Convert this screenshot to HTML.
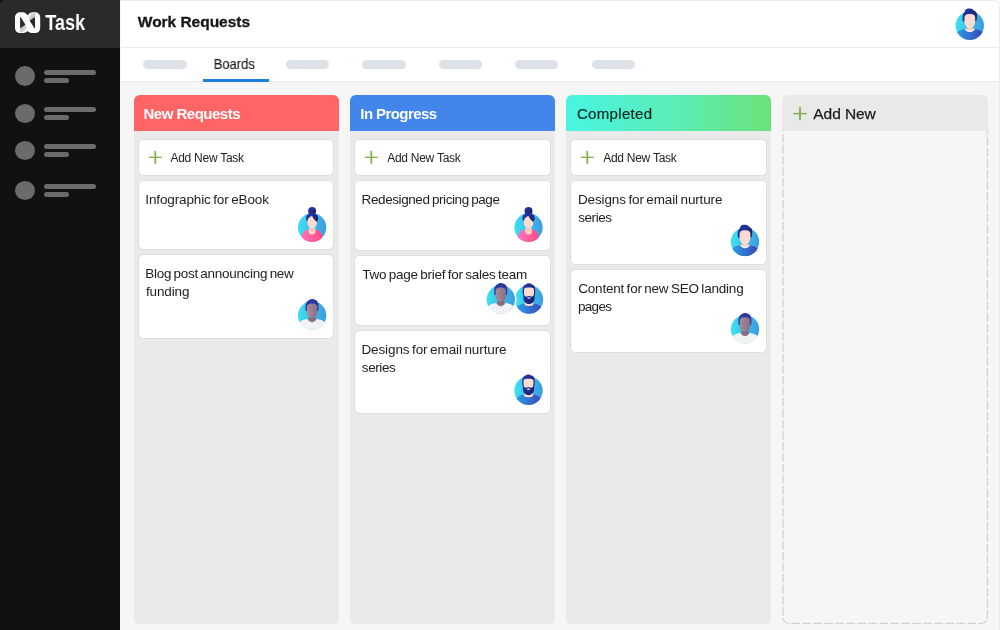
<!DOCTYPE html>
<html lang="en">
<head>
<meta charset="utf-8">
<title>nTask – Work Requests</title>
<style>
*{box-sizing:border-box;margin:0;padding:0}
html,body{width:1000px;height:630px;overflow:hidden}
body{position:relative;background:#f6f6f6;font-family:"Liberation Sans",Arial,sans-serif;color:#202020}
.abs{position:absolute}
.t{position:absolute;white-space:nowrap;color:#222;will-change:transform;transform-origin:0 50%}
#frame{position:absolute;left:120px;top:0;width:880px;height:630px;border-top:1px solid #ebebeb;border-right:1px solid #ebebeb;border-top-right-radius:7px;pointer-events:none}
#side{position:absolute;left:0;top:0;width:120px;height:630px;background:#111}
#side .top{position:absolute;left:0;top:0;width:120px;height:48px;background:#2a2a2a;border-top-left-radius:5px}
#side .c{position:absolute;left:15px;width:20px;height:20px;border-radius:50%;background:#6b6b6b}
#side .l{position:absolute;left:44px;height:5px;border-radius:3px;background:#6b6b6b}
#side .l.a{width:52px}
#side .l.b{width:25px}
#head{position:absolute;left:121px;top:1px;width:878px;height:47px;background:#fff;border-bottom:1px solid #ebebeb}
#tabs{position:absolute;left:121px;top:48px;width:878px;height:34px;background:#fff;border-bottom:1px solid #e9e9e9}
.p{position:absolute;top:60px;height:9px;width:44px;border-radius:5px;background:#dde2e8}
#on{position:absolute;left:203px;top:79px;width:66px;height:3px;background:#1c7fe0}
.col{position:absolute;top:95px;width:205px;height:529px;background:#eaeaea;border-radius:6px}
.h{position:absolute;top:95px;width:205px;height:36px;border-radius:6px 6px 0 0}
.card{position:absolute;background:#fff;border-radius:4.5px;box-shadow:0 0 0 1px rgba(0,0,0,.05)}
.av{position:absolute}
</style>
</head>
<body>
<div id="side"><div class="top"></div>
<svg class="abs" style="left:10px;top:8px" width="36" height="30" viewBox="10 8 36 30"><defs><linearGradient id="lg1" x1="0" y1="0" x2="1" y2="1"><stop offset="0" stop-color="#9c9c9c"/><stop offset="1" stop-color="#fff"/></linearGradient><linearGradient id="lg2" x1="1" y1="1" x2="0" y2="0"><stop offset="0" stop-color="#9c9c9c"/><stop offset="1" stop-color="#fff"/></linearGradient></defs><path d="M15 17.300a5 5 0 0 1 5-5h2.500c2.200 0 3.600 1.100 5.100 3.100c1.500-2 2.900-3.100 5.100-3.100h2.500a5 5 0 0 1 5 5v10.800a5 5 0 0 1-5 5h-2.500c-2.200 0-3.600-0.800-5.100-2.200c-1.500 1.400-2.900 2.200-5.100 2.200h-2.500a5 5 0 0 1-5-5z" fill="#fff"/><path d="M20.100 27.800L25.200 24.600L27 28.600L23 32.600L20.100 32z" fill="url(#lg1)"/><path d="M35 17.200L30 20.800L28.300 16.600L32.300 12.800L35 13.200z" fill="url(#lg2)"/><path d="M20.100 17.300Q20.100 16.300 20.800 17.200L25.200 24.200Q25.500 24.700 25 25L20.800 27.700Q20.100 28.100 20.100 27.300z" fill="#2a2a2a"/><path d="M35 28Q35 29 34.300 28.100L29.900 21.100Q29.600 20.600 30.100 20.300L34.300 17.600Q35 17.200 35 18z" fill="#2a2a2a"/></svg>
<div class="c" style="top:66px;height:20px"></div><div class="l a" style="top:70px"></div><div class="l b" style="top:78px"></div>
<div class="c" style="top:104px;height:19px"></div><div class="l a" style="top:107px"></div><div class="l b" style="top:115px"></div>
<div class="c" style="top:141px;height:19px"></div><div class="l a" style="top:144px"></div><div class="l b" style="top:152px"></div>
<div class="c" style="top:181px;height:19px"></div><div class="l a" style="top:184px"></div><div class="l b" style="top:192px"></div>
</div>
<div class="t" style="left:45px;top:9px;font-size:22px;line-height:28px;transform:translateX(0.30px) scaleX(0.8207);font-weight:bold;color:#fff">Task</div>
<div id="head"></div><div id="tabs"></div>
<div class="t" style="left:137px;top:11px;font-size:15.5px;line-height:22px;letter-spacing:-0.033px;transform:translateX(0.85px);font-weight:bold;color:#161616;-webkit-text-stroke:0.3px #161616">Work Requests</div>
<div class="p" style="left:143px;width:44px"></div>
<div class="p" style="left:286px;width:43px"></div>
<div class="p" style="left:362px;width:44px"></div>
<div class="p" style="left:439px;width:43px"></div>
<div class="p" style="left:515px;width:43px"></div>
<div class="p" style="left:592px;width:43px"></div>
<div class="t" style="left:213px;top:55px;font-size:14.5px;line-height:18px;transform:translateX(0.65px) scaleX(0.8933);color:#1c1c1c;-webkit-text-stroke:0.15px #1c1c1c">Boards</div>
<div id="on"></div>
<svg class="av" style="left:952px;top:0px" width="34" height="42" viewBox="-17.80 -25.60 34 42"><defs><linearGradient id="g0" x1="0" y1="0" x2="1" y2="0"><stop offset="0" stop-color="#3de2f1"/><stop offset="1" stop-color="#3b9be2"/></linearGradient><linearGradient id="h0" x1="0" y1="0" x2="1" y2="1"><stop offset="0" stop-color="#2a3bb0"/><stop offset="1" stop-color="#151b5e"/></linearGradient><clipPath id="c0"><circle cx="0" cy="0" r="14.4"/></clipPath><linearGradient id="s0" x1="0" y1="0" x2="1" y2="0"><stop offset="0" stop-color="#2aa0e4"/><stop offset="1" stop-color="#3a44b6"/></linearGradient></defs><circle cx="0" cy="0" r="14.15" fill="url(#g0)"/><path d="M-6.9 -4 C-7.6 -8 -7.4 -11.5 -5 -14 C-4.4 -16.4 -2.6 -17.6 -0.6 -17 C1.6 -17.4 3.6 -16.2 4.6 -14.6 C6.4 -14.4 7.4 -12.6 7.2 -10 C7.2 -8 6.8 -5.6 6.4 -4 Z" fill="url(#h0)"/><g clip-path="url(#c0)"><path d="M-13.5 7.6 C-11.5 5 -8.5 3.7 -4.5 3.4 L4.5 3.4 C8.5 3.7 11.5 5 13.5 7.6 L13.5 15 L-13.5 15 Z" fill="url(#s0)"/><path d="M-5.2 3.3 C-3.6 7.4 3.6 7.4 5.2 3.3 Z" fill="#eef3fb"/><path d="M-3.8 3.3 C-2.6 5.8 2.6 5.8 3.8 3.3 Z" fill="#fddbd0"/></g><path d="M-2.8 0 L2.8 0 L3.4 3.6 L-3.4 3.6 Z" fill="#f4c3b8"/><path d="M-5.4 -7 C-5.4 -10.6 -3.8 -11.5 0 -11.5 C3.8 -11.5 5.4 -10.6 5.4 -7 L5.4 -4.5 C5.4 -0.5 2.6 3 0 3 C-2.6 3 -5.4 -0.5 -5.4 -4.5 Z" fill="#fddbd0"/></svg>
<div class="col" style="left:134px"></div>
<div class="col" style="left:350px"></div>
<div class="col" style="left:566px"></div>
<svg class="abs" style="left:778px;top:90px" width="216" height="540" viewBox="778 90 216 540"><path d="M783 128V617.400a6 6 0 0 0 6 6H981.400a6 6 0 0 0 6-6V128" fill="none" stroke="#d2d2d2" stroke-width="1.35" stroke-dasharray="8.6 2.4" stroke-dashoffset="5"/></svg>
<div class="h" style="left:134px;background:#ff6565"></div>
<div class="h" style="left:350px;background:#4285eb"></div>
<div class="h" style="left:566px;background:linear-gradient(90deg,#48f5e2 0%,#5becb4 55%,#6ae27a 100%)"></div>
<div class="h" style="left:782px;width:206px;background:#e9e9e9"></div>
<div class="t" style="left:143px;top:105px;font-size:15px;line-height:18px;letter-spacing:-0.500px;transform:translateX(0.50px);font-weight:bold;color:#fff">New Requests</div>
<div class="t" style="left:360px;top:105px;font-size:15px;line-height:18px;letter-spacing:-0.575px;transform:translateX(0.30px);font-weight:bold;color:#fff">In Progress</div>
<div class="t" style="left:576px;top:105px;font-size:15px;line-height:18px;letter-spacing:0.325px;transform:translateX(0.95px);color:#0a2722;-webkit-text-stroke:0.2px #0a2722">Completed</div>
<svg class="abs" style="left:792px;top:105px" width="16" height="16" viewBox="-8.00 -8.60 16 16"><path d="M-6.6 0H6.6" stroke="#7fb048" stroke-width="1.4" fill="none"/><path d="M0 -6.6V6.6" stroke="#7fb048" stroke-width="1.8" fill="none"/></svg>
<div class="t" style="left:813px;top:105px;font-size:15.5px;line-height:18px;letter-spacing:-0.083px;transform:translateX(0.35px);color:#1a1a1a;-webkit-text-stroke:0.25px #1a1a1a">Add New</div>
<div class="card" style="left:139px;top:140px;width:194px;height:35px"></div>
<svg class="abs" style="left:147px;top:149px" width="16" height="16" viewBox="-8.30 -8.30 16 16"><path d="M-6.5 0H6.5" stroke="#7fb048" stroke-width="1.3" fill="none"/><path d="M0 -6.5V6.5" stroke="#7fb048" stroke-width="1.7" fill="none"/></svg>
<div class="t" style="left:170px;top:150px;font-size:12px;line-height:16px;letter-spacing:-0.259px;transform:translateX(0.45px);">Add New Task</div>
<div class="card" style="left:355px;top:140px;width:195px;height:35px"></div>
<svg class="abs" style="left:363px;top:149px" width="16" height="16" viewBox="-8.30 -8.30 16 16"><path d="M-6.5 0H6.5" stroke="#7fb048" stroke-width="1.3" fill="none"/><path d="M0 -6.5V6.5" stroke="#7fb048" stroke-width="1.7" fill="none"/></svg>
<div class="t" style="left:387px;top:150px;font-size:12px;line-height:16px;letter-spacing:-0.259px;transform:translateX(0.15px);">Add New Task</div>
<div class="card" style="left:571px;top:140px;width:195px;height:35px"></div>
<svg class="abs" style="left:579px;top:149px" width="16" height="16" viewBox="-8.30 -8.30 16 16"><path d="M-6.5 0H6.5" stroke="#7fb048" stroke-width="1.3" fill="none"/><path d="M0 -6.5V6.5" stroke="#7fb048" stroke-width="1.7" fill="none"/></svg>
<div class="t" style="left:603px;top:150px;font-size:12px;line-height:16px;letter-spacing:-0.259px;transform:translateX(0.15px);">Add New Task</div>
<div class="card" style="left:139px;top:181px;width:194px;height:68px"></div>
<div class="t" style="left:145px;top:191px;font-size:13.5px;line-height:18px;letter-spacing:-0.133px;transform:translateX(0.30px);word-spacing:-1px;">Infographic for eBook</div>
<svg class="av" style="left:295px;top:202px" width="34" height="42" viewBox="-17.10 -25.50 34 42"><defs><linearGradient id="g1" x1="0" y1="0" x2="1" y2="0"><stop offset="0" stop-color="#3de2f1"/><stop offset="1" stop-color="#3b9be2"/></linearGradient><linearGradient id="h1" x1="0" y1="0" x2="1" y2="1"><stop offset="0" stop-color="#2a3bb0"/><stop offset="1" stop-color="#151b5e"/></linearGradient><clipPath id="c1"><circle cx="0" cy="0" r="14.4"/></clipPath><linearGradient id="s1" x1="0" y1="0" x2="1" y2="0"><stop offset="0" stop-color="#ff72ba"/><stop offset="1" stop-color="#ff4a84"/></linearGradient></defs><circle cx="0" cy="0" r="14.15" fill="url(#g1)"/><circle cx="0" cy="-16.6" r="4" fill="url(#h1)"/><ellipse cx="0" cy="-9.2" rx="6.1" ry="5.6" fill="url(#h1)"/><g clip-path="url(#c1)"><path d="M-10.7 12 C-10.5 6.5 -8.5 2.6 -4 2 L4 2 C8.5 2.6 10.1 6.5 10.3 12 L10.3 15 L-10.7 15 Z" fill="url(#s1)"/><ellipse cx="0" cy="3.2" rx="3.5" ry="3.8" fill="#fddbd0"/></g><rect x="-1.8" y="-1" width="3.6" height="5" fill="#f4c3b8"/><ellipse cx="0" cy="-5.2" rx="4.8" ry="6.2" fill="#fddbd0"/><path d="M-3.8 -9.6 C-2.6 -11 -1.4 -11.6 0 -11.6 C1 -9.2 3 -7 4.9 -5.6 L5.6 -11 L0 -13.5 L-4.8 -11.5 Z" fill="url(#h1)"/></svg>
<div class="card" style="left:139px;top:255px;width:194px;height:83px"></div>
<div class="t" style="left:145px;top:265px;font-size:13.5px;line-height:18px;letter-spacing:-0.298px;transform:translateX(0.30px);word-spacing:-1px;">Blog post announcing new</div>
<div class="t" style="left:145px;top:283px;font-size:13.5px;line-height:18px;letter-spacing:-0.117px;transform:translateX(0.90px);word-spacing:-1px;">funding</div>
<svg class="av" style="left:295px;top:290px" width="34" height="42" viewBox="-17.10 -25.40 34 42"><defs><linearGradient id="g2" x1="0" y1="0" x2="1" y2="0"><stop offset="0" stop-color="#3de2f1"/><stop offset="1" stop-color="#3b9be2"/></linearGradient><linearGradient id="h2" x1="0" y1="0" x2="1" y2="1"><stop offset="0" stop-color="#2a3bb0"/><stop offset="1" stop-color="#151b5e"/></linearGradient><clipPath id="c2"><circle cx="0" cy="0" r="14.4"/></clipPath><linearGradient id="s2" x1="0" y1="0" x2="1" y2="0"><stop offset="0" stop-color="#a48d9f"/><stop offset="1" stop-color="#8b6e86"/></linearGradient></defs><circle cx="0" cy="0" r="14.15" fill="url(#g2)"/><path d="M-6.4 -4.5 C-7 -10 -6.2 -14 -3 -15.4 C-1.6 -16.6 1.4 -16.7 3 -15.6 C6.2 -14.6 7 -10.5 6.3 -4.5 Z" fill="#2b369f"/><g clip-path="url(#c2)"><path d="M-13.5 8 C-11.5 5.4 -8.5 4 -4.5 3.7 L4.5 3.7 C8.5 4 11.5 5.4 13.5 8 L13.5 15 L-13.5 15 Z" fill="#f1f2f3"/><path d="M-4.4 3.6 C-3 7.800 3 7.800 4.4 3.6 Z" fill="#8e7389"/></g><path d="M-3 0 L3 0 L3.6 4 L-3.6 4 Z" fill="#80667c"/><path d="M-5.2 -8 C-5.2 -11 -3.6 -12 0 -12 C3.6 -12 5.2 -11 5.2 -8 L5.2 -3.5 C5.2 0 2.6 2.8 0 2.8 C-2.6 2.8 -5.2 0 -5.2 -3.5 Z" fill="url(#s2)"/></svg>
<div class="card" style="left:355px;top:181px;width:195px;height:69px"></div>
<div class="t" style="left:361px;top:191px;font-size:13.5px;line-height:18px;letter-spacing:-0.409px;transform:translateX(0.60px);word-spacing:-1px;">Redesigned pricing page</div>
<svg class="av" style="left:511px;top:202px" width="34" height="42" viewBox="-17.50 -25.50 34 42"><defs><linearGradient id="g3" x1="0" y1="0" x2="1" y2="0"><stop offset="0" stop-color="#3de2f1"/><stop offset="1" stop-color="#3b9be2"/></linearGradient><linearGradient id="h3" x1="0" y1="0" x2="1" y2="1"><stop offset="0" stop-color="#2a3bb0"/><stop offset="1" stop-color="#151b5e"/></linearGradient><clipPath id="c3"><circle cx="0" cy="0" r="14.4"/></clipPath><linearGradient id="s3" x1="0" y1="0" x2="1" y2="0"><stop offset="0" stop-color="#ff72ba"/><stop offset="1" stop-color="#ff4a84"/></linearGradient></defs><circle cx="0" cy="0" r="14.15" fill="url(#g3)"/><circle cx="0" cy="-16.6" r="4" fill="url(#h3)"/><ellipse cx="0" cy="-9.2" rx="6.1" ry="5.6" fill="url(#h3)"/><g clip-path="url(#c3)"><path d="M-10.7 12 C-10.5 6.5 -8.5 2.6 -4 2 L4 2 C8.5 2.6 10.1 6.5 10.3 12 L10.3 15 L-10.7 15 Z" fill="url(#s3)"/><ellipse cx="0" cy="3.2" rx="3.5" ry="3.8" fill="#fddbd0"/></g><rect x="-1.8" y="-1" width="3.6" height="5" fill="#f4c3b8"/><ellipse cx="0" cy="-5.2" rx="4.8" ry="6.2" fill="#fddbd0"/><path d="M-3.8 -9.6 C-2.6 -11 -1.4 -11.6 0 -11.6 C1 -9.2 3 -7 4.9 -5.6 L5.6 -11 L0 -13.5 L-4.8 -11.5 Z" fill="url(#h3)"/></svg>
<div class="card" style="left:355px;top:256px;width:195px;height:69px"></div>
<div class="t" style="left:362px;top:266px;font-size:13.5px;line-height:18px;letter-spacing:-0.250px;transform:translateX(0.25px);word-spacing:-1px;">Two page brief for sales team</div>
<svg class="av" style="left:512px;top:274px" width="34" height="42" viewBox="-17.00 -25.40 34 42"><defs><linearGradient id="g4" x1="0" y1="0" x2="1" y2="0"><stop offset="0" stop-color="#3de2f1"/><stop offset="1" stop-color="#3b9be2"/></linearGradient><linearGradient id="h4" x1="0" y1="0" x2="1" y2="1"><stop offset="0" stop-color="#2a3bb0"/><stop offset="1" stop-color="#151b5e"/></linearGradient><clipPath id="c4"><circle cx="0" cy="0" r="14.4"/></clipPath><linearGradient id="s4" x1="0" y1="0" x2="1" y2="0"><stop offset="0" stop-color="#2aa0e4"/><stop offset="1" stop-color="#3a48bb"/></linearGradient></defs><circle cx="0" cy="0" r="14.15" fill="url(#g4)"/><path d="M-6.1 -5 C-6.8 -11 -6 -14.3 -3 -15.2 C-1.5 -16.6 1.5 -16.4 3 -15 C6 -14.4 6.6 -11 6 -5 Z" fill="url(#h4)"/><g clip-path="url(#c4)"><path d="M-13 9 C-11.5 6 -8.5 4.3 -4.5 4 L4.5 4 C8.5 4.3 11.5 6 13 9 L13 15 L-13 15 Z" fill="url(#s4)"/><ellipse cx="0" cy="4.2" rx="4.6" ry="2.5" fill="#fddbd0"/></g><path d="M-5 -9 C-5 -11.4 -3.6 -11.8 0 -11.8 C3.6 -11.8 5 -11.4 5 -9 L5 -1 L-5 -1 Z" fill="#fddbd0"/><path d="M-5.7 -6 L-5 -6 C-4.8 -3.4 -3.6 -2.6 -1.6 -3 C-0.6 -3.6 0.6 -3.6 1.6 -3 C3.6 -2.6 4.8 -3.4 5 -6 L5.7 -6 L5.6 -1 C5.2 2.6 2.6 4.6 0 4.6 C-2.6 4.6 -5.2 2.6 -5.6 -1 Z" fill="url(#h4)"/><ellipse cx="0" cy="-1.3" rx="1.7" ry="0.75" fill="#dcd8ee"/></svg>
<svg class="av" style="left:483px;top:274px" width="34" height="42" viewBox="-17.80 -25.40 34 42"><defs><linearGradient id="g5" x1="0" y1="0" x2="1" y2="0"><stop offset="0" stop-color="#3de2f1"/><stop offset="1" stop-color="#3b9be2"/></linearGradient><linearGradient id="h5" x1="0" y1="0" x2="1" y2="1"><stop offset="0" stop-color="#2a3bb0"/><stop offset="1" stop-color="#151b5e"/></linearGradient><clipPath id="c5"><circle cx="0" cy="0" r="14.4"/></clipPath><linearGradient id="s5" x1="0" y1="0" x2="1" y2="0"><stop offset="0" stop-color="#a48d9f"/><stop offset="1" stop-color="#8b6e86"/></linearGradient></defs><circle cx="0" cy="0" r="15.75" fill="#fff"/><circle cx="0" cy="0" r="14.15" fill="url(#g5)"/><path d="M-6.4 -4.5 C-7 -10 -6.2 -14 -3 -15.4 C-1.6 -16.6 1.4 -16.7 3 -15.6 C6.2 -14.6 7 -10.5 6.3 -4.5 Z" fill="#2b369f"/><g clip-path="url(#c5)"><path d="M-13.5 8 C-11.5 5.4 -8.5 4 -4.5 3.7 L4.5 3.7 C8.5 4 11.5 5.4 13.5 8 L13.5 15 L-13.5 15 Z" fill="#f1f2f3"/><path d="M-4.4 3.6 C-3 7.800 3 7.800 4.4 3.6 Z" fill="#8e7389"/></g><path d="M-3 0 L3 0 L3.6 4 L-3.6 4 Z" fill="#80667c"/><path d="M-5.2 -8 C-5.2 -11 -3.6 -12 0 -12 C3.6 -12 5.2 -11 5.2 -8 L5.2 -3.5 C5.2 0 2.6 2.8 0 2.8 C-2.6 2.8 -5.2 0 -5.2 -3.5 Z" fill="url(#s5)"/></svg>
<div class="card" style="left:355px;top:331px;width:195px;height:82px"></div>
<div class="t" style="left:361px;top:341px;font-size:13.5px;line-height:18px;letter-spacing:-0.113px;transform:translateX(0.45px);word-spacing:-1px;">Designs for email nurture</div>
<div class="t" style="left:361px;top:359px;font-size:13.5px;line-height:18px;letter-spacing:-0.420px;transform:translateX(0.85px);word-spacing:-1px;">series</div>
<svg class="av" style="left:511px;top:365px" width="34" height="42" viewBox="-17.50 -25.60 34 42"><defs><linearGradient id="g6" x1="0" y1="0" x2="1" y2="0"><stop offset="0" stop-color="#3de2f1"/><stop offset="1" stop-color="#3b9be2"/></linearGradient><linearGradient id="h6" x1="0" y1="0" x2="1" y2="1"><stop offset="0" stop-color="#2a3bb0"/><stop offset="1" stop-color="#151b5e"/></linearGradient><clipPath id="c6"><circle cx="0" cy="0" r="14.4"/></clipPath><linearGradient id="s6" x1="0" y1="0" x2="1" y2="0"><stop offset="0" stop-color="#2aa0e4"/><stop offset="1" stop-color="#3a48bb"/></linearGradient></defs><circle cx="0" cy="0" r="14.15" fill="url(#g6)"/><path d="M-6.1 -5 C-6.8 -11 -6 -14.3 -3 -15.2 C-1.5 -16.6 1.5 -16.4 3 -15 C6 -14.4 6.6 -11 6 -5 Z" fill="url(#h6)"/><g clip-path="url(#c6)"><path d="M-13 9 C-11.5 6 -8.5 4.3 -4.5 4 L4.5 4 C8.5 4.3 11.5 6 13 9 L13 15 L-13 15 Z" fill="url(#s6)"/><ellipse cx="0" cy="4.2" rx="4.6" ry="2.5" fill="#fddbd0"/></g><path d="M-5 -9 C-5 -11.4 -3.6 -11.8 0 -11.8 C3.6 -11.8 5 -11.4 5 -9 L5 -1 L-5 -1 Z" fill="#fddbd0"/><path d="M-5.7 -6 L-5 -6 C-4.8 -3.4 -3.6 -2.6 -1.6 -3 C-0.6 -3.6 0.6 -3.6 1.6 -3 C3.6 -2.6 4.8 -3.4 5 -6 L5.7 -6 L5.6 -1 C5.2 2.6 2.6 4.6 0 4.6 C-2.6 4.6 -5.2 2.6 -5.6 -1 Z" fill="url(#h6)"/><ellipse cx="0" cy="-1.3" rx="1.7" ry="0.75" fill="#dcd8ee"/></svg>
<div class="card" style="left:571px;top:181px;width:195px;height:83px"></div>
<div class="t" style="left:578px;top:191px;font-size:13.5px;line-height:18px;letter-spacing:-0.140px;transform:translateX(0.00px);word-spacing:-1px;">Designs for email nurture</div>
<div class="t" style="left:578px;top:209px;font-size:13.5px;line-height:18px;letter-spacing:-0.440px;transform:translateX(0.20px);word-spacing:-1px;">series</div>
<svg class="av" style="left:728px;top:216px" width="34" height="42" viewBox="-17.00 -25.80 34 42"><defs><linearGradient id="g7" x1="0" y1="0" x2="1" y2="0"><stop offset="0" stop-color="#3de2f1"/><stop offset="1" stop-color="#3b9be2"/></linearGradient><linearGradient id="h7" x1="0" y1="0" x2="1" y2="1"><stop offset="0" stop-color="#2a3bb0"/><stop offset="1" stop-color="#151b5e"/></linearGradient><clipPath id="c7"><circle cx="0" cy="0" r="14.4"/></clipPath><linearGradient id="s7" x1="0" y1="0" x2="1" y2="0"><stop offset="0" stop-color="#2aa0e4"/><stop offset="1" stop-color="#3a44b6"/></linearGradient></defs><circle cx="0" cy="0" r="14.15" fill="url(#g7)"/><path d="M-6.9 -4 C-7.6 -8 -7.4 -11.5 -5 -14 C-4.4 -16.4 -2.6 -17.6 -0.6 -17 C1.6 -17.4 3.6 -16.2 4.6 -14.6 C6.4 -14.4 7.4 -12.6 7.2 -10 C7.2 -8 6.8 -5.6 6.4 -4 Z" fill="url(#h7)"/><g clip-path="url(#c7)"><path d="M-13.5 7.6 C-11.5 5 -8.5 3.7 -4.5 3.4 L4.5 3.4 C8.5 3.7 11.5 5 13.5 7.6 L13.5 15 L-13.5 15 Z" fill="url(#s7)"/><path d="M-5.2 3.3 C-3.6 7.4 3.6 7.4 5.2 3.3 Z" fill="#eef3fb"/><path d="M-3.8 3.3 C-2.6 5.8 2.6 5.8 3.8 3.3 Z" fill="#fddbd0"/></g><path d="M-2.8 0 L2.8 0 L3.4 3.6 L-3.4 3.6 Z" fill="#f4c3b8"/><path d="M-5.4 -7 C-5.4 -10.6 -3.8 -11.5 0 -11.5 C3.8 -11.5 5.4 -10.6 5.4 -7 L5.4 -4.5 C5.4 -0.5 2.6 3 0 3 C-2.6 3 -5.4 -0.5 -5.4 -4.5 Z" fill="#fddbd0"/></svg>
<div class="card" style="left:571px;top:270px;width:195px;height:82px"></div>
<div class="t" style="left:578px;top:280px;font-size:13.5px;line-height:18px;letter-spacing:-0.210px;transform:translateX(0.25px);word-spacing:-1px;">Content for new SEO landing</div>
<div class="t" style="left:578px;top:298px;font-size:13.5px;line-height:18px;letter-spacing:-0.713px;transform:translateX(0.00px);word-spacing:-1px;">pages</div>
<svg class="av" style="left:728px;top:304px" width="34" height="42" viewBox="-17.00 -25.30 34 42"><defs><linearGradient id="g8" x1="0" y1="0" x2="1" y2="0"><stop offset="0" stop-color="#3de2f1"/><stop offset="1" stop-color="#3b9be2"/></linearGradient><linearGradient id="h8" x1="0" y1="0" x2="1" y2="1"><stop offset="0" stop-color="#2a3bb0"/><stop offset="1" stop-color="#151b5e"/></linearGradient><clipPath id="c8"><circle cx="0" cy="0" r="14.4"/></clipPath><linearGradient id="s8" x1="0" y1="0" x2="1" y2="0"><stop offset="0" stop-color="#a48d9f"/><stop offset="1" stop-color="#8b6e86"/></linearGradient></defs><circle cx="0" cy="0" r="14.15" fill="url(#g8)"/><path d="M-6.4 -4.5 C-7 -10 -6.2 -14 -3 -15.4 C-1.6 -16.6 1.4 -16.7 3 -15.6 C6.2 -14.6 7 -10.5 6.3 -4.5 Z" fill="#2b369f"/><g clip-path="url(#c8)"><path d="M-13.5 8 C-11.5 5.4 -8.5 4 -4.5 3.7 L4.5 3.7 C8.5 4 11.5 5.4 13.5 8 L13.5 15 L-13.5 15 Z" fill="#f1f2f3"/><path d="M-4.4 3.6 C-3 7.800 3 7.800 4.4 3.6 Z" fill="#8e7389"/></g><path d="M-3 0 L3 0 L3.6 4 L-3.6 4 Z" fill="#80667c"/><path d="M-5.2 -8 C-5.2 -11 -3.6 -12 0 -12 C3.6 -12 5.2 -11 5.2 -8 L5.2 -3.5 C5.2 0 2.6 2.8 0 2.8 C-2.6 2.8 -5.2 0 -5.2 -3.5 Z" fill="url(#s8)"/></svg>
<div id="frame"></div>
</body>
</html>
